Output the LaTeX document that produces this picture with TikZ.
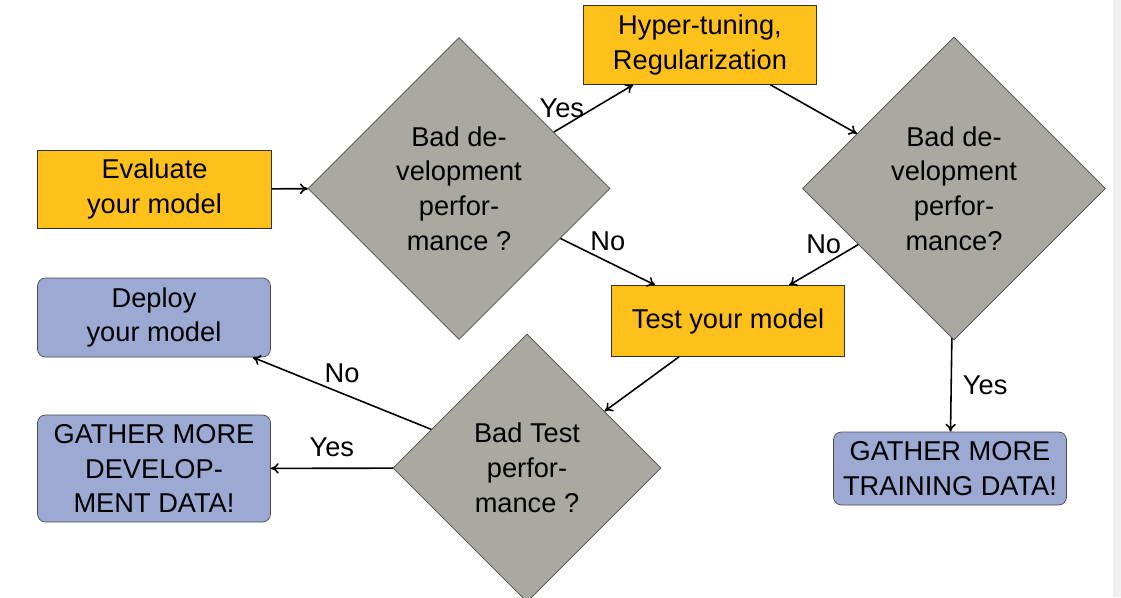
\documentclass[tikz,border=0pt]{standalone}
\usepackage{fontspec}
\setmainfont{Liberation Sans}
\usetikzlibrary{shapes.geometric,arrows.meta}

\definecolor{taskyellow}{RGB}{254,193,27}
\definecolor{endblue}{RGB}{156,169,211}
\definecolor{askgray}{RGB}{169,169,161}

\begin{document}
\begin{tikzpicture}[
        every node/.style={font=\fontsize{15.5}{19.8}\selectfont, align=center},
        task/.style={draw=black!80, fill=taskyellow, minimum width=4.67cm, inner sep=0pt},
        outcome/.style={draw=black!70, fill=endblue, rounded corners=0.16cm, minimum width=4.66cm, inner sep=0pt},
        ask/.style={diamond, aspect=1, draw=black!70, fill=askgray, inner sep=0pt},
        flow/.style={line width=0.9pt, -{To[length=4.5pt,width=6pt]}},
        answer/.style={inner sep=0pt}
    ]
        \useasboundingbox (0,0) rectangle (22.42,11.94);
        \fill [black!6] (22.26,0) rectangle (22.42,11.94);

        \node [task, minimum height=1.56cm] (evaluate) at (3.09,8.16) {Evaluate\\your model};
        \node [ask, minimum width=6.04cm, minimum height=6.04cm] (devask) at (9.18,8.17) {Bad de-\\velopment\\perfor-\\mance ?};
        \node [task, minimum height=1.58cm] (tuning) at (14.0,11.04) {Hyper-tuning,\\Regularization};
        \node [ask, minimum width=6.06cm, minimum height=6.06cm] (trainask) at (19.08,8.17) {Bad de-\\velopment\\perfor-\\mance?};
        \node [task, minimum height=1.42cm] (test) at (14.56,5.52) {Test your model};
        \node [ask, minimum width=5.36cm, minimum height=5.36cm] (testask) at (10.54,2.58) {Bad Test\\perfor-\\mance ?};
        \node [outcome, minimum height=1.58cm] (deploy) at (3.08,5.59) {Deploy\\your model};
        \node [outcome, minimum height=2.14cm] (moredev) at (3.08,2.57) {GATHER MORE\\DEVELOP-\\MENT DATA!};
        \node [outcome, minimum height=1.46cm] (moretrain) at (19.0,2.57) {GATHER MORE\\TRAINING DATA!};

        \draw [flow] (evaluate) -- (devask);
        \draw [flow] (devask) -- (tuning) node[answer, pos=0.1, above=0.17cm] {Yes};
        \draw [flow] (tuning) -- (trainask);
        \draw [flow] (devask) -- (test) node[answer, pos=0.5, above=0.2cm] {No};
        \draw [flow] (trainask) -- (test) node[answer, pos=0.5, above=0.2cm] {No};
        \draw [flow] (trainask) -- (moretrain) node[answer, pos=0.5, right=0.22cm] {Yes};
        \draw [flow] (test) -- (testask);
        \draw [flow] (testask) -- (deploy) node[answer, pos=0.5, above=0.2cm] {No};
        \draw [flow] (testask) -- (moredev) node[answer, pos=0.5, above=0.22cm] {Yes};
    \end{tikzpicture}
\end{document}
